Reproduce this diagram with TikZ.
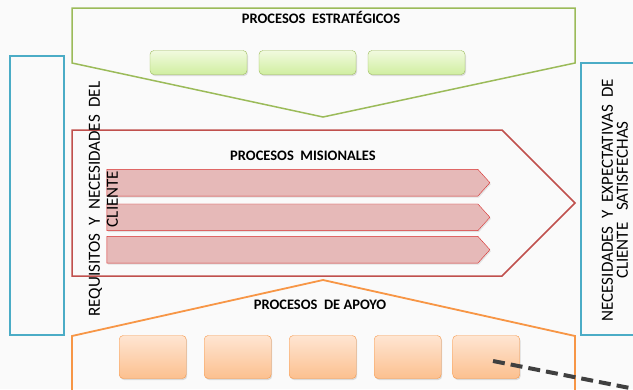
\documentclass[tikz,border=0pt]{standalone}
\usepackage{fontspec}
\setmainfont{Carlito}
\usepackage{xcolor}
\usetikzlibrary{positioning,shapes.symbols,shadows}
\definecolor{verde}{HTML}{9BBB59}
\definecolor{verdea}{HTML}{F1FADF}
\definecolor{verdeb}{HTML}{D0EEA0}
\definecolor{rojo}{HTML}{C0504D}
\definecolor{rojoflecha}{HTML}{D9302E}
\definecolor{rosa}{HTML}{E6B9B8}
\definecolor{naranja}{HTML}{F79646}
\definecolor{naranjaa}{HTML}{FEE5D2}
\definecolor{naranjab}{HTML}{FCC08F}
\definecolor{azul}{HTML}{4BACC6}
\begin{document}
\begin{tikzpicture}
            [x=1pt,y=-1pt,
             caja/.style ={draw,rounded corners=4pt,inner sep=0pt,drop shadow={shadow xshift=1pt,shadow yshift=-1.5pt,opacity=0.25}},
             titulo/.style ={font=\bfseries\fontsize{14.5}{16}\selectfont,anchor=base},
             lado/.style ={rotate=90,align=center,font=\fontsize{17}{18}\selectfont},
             flecha/.style ={draw=rojoflecha,fill=rosa,signal,signal to=east,signal pointer angle=96,minimum width=383pt,minimum height=26.7pt,inner sep=0pt,anchor=west,drop shadow={shadow xshift=1pt,shadow yshift=-1.5pt,opacity=0.2}}]
            \clip (0,0) rectangle (633,389);
            \fill[black!2] (0,0) rectangle (633,389);
            % marcos
            \draw[verde,line width=1.5pt] (72,8) -- (575,8) -- (575,63) -- (323,117) -- (72,63) -- cycle;
            \draw[rojo,line width=1.5pt] (72,130) -- (502,130) -- (575,203) -- (502,276) -- (72,276) -- cycle;
            \draw[naranja,line width=1.8pt] (72,400) -- (72,336) -- (323,280) -- (575,336) -- (575,400);
            \draw[azul,line width=1.8pt] (10,56) rectangle (64,335);
            \draw[azul,line width=1.8pt] (581,63) rectangle (660,335);
            % estrategicos
            \node[titulo] (te) at (321,23) {PROCESOS\ \ ESTRATÉGICOS};
            \begin{scope}[node distance=109pt]
            \node[caja][draw=verde,top color=verdea,bottom color=verdeb,minimum width=97pt,minimum height=24pt] (g1) at (198.5,62.5) {};
            \node[caja][draw=verde,top color=verdea,bottom color=verdeb,minimum width=97pt,minimum height=24pt] (g2) [right of = g1] {};
            \node[caja][draw=verde,top color=verdea,bottom color=verdeb,minimum width=97pt,minimum height=24pt] (g3) [right of = g2] {};
            \end{scope}
            % misionales
            \node[titulo] (tm) at (303,160) {PROCESOS\ \ MISIONALES};
            \node[flecha] (r1) at (106.7,182.7) {};
            \node[flecha] (r2) [below=7.5pt of r1.south west, anchor=north west] {};
            \node[flecha] (r3) [below=5.3pt of r2.south west, anchor=north west] {};
            % apoyo
            \node[titulo] (ta) at (320,309) {PROCESOS\ \ DE APOYO};
            \begin{scope}[node distance=85pt]
            \node[caja][draw=naranja,top color=naranjaa,bottom color=naranjab,minimum width=67pt,minimum height=43pt] (o1) at (152.7,357) {};
            \node[caja][draw=naranja,top color=naranjaa,bottom color=naranjab,minimum width=67pt,minimum height=43pt] (o2) [right of = o1] {};
            \node[caja][draw=naranja,top color=naranjaa,bottom color=naranjab,minimum width=67pt,minimum height=43pt] (o3) [right of = o2] {};
            \node[caja][draw=naranja,top color=naranjaa,bottom color=naranjab,minimum width=67pt,minimum height=43pt] (o4) [right of = o3] {};
            \node[caja][draw=naranja,top color=naranjaa,bottom color=naranjab,minimum width=67pt,minimum height=43pt] (o5) [right of = o4, node distance=78.5pt] {};
            \end{scope}
            % cliente
            \node[lado] (req) at (103.5,199) {REQUISITOS\ \ Y\ \ NECESIDADES\ \ DEL\\CLIENTE};
            \node[lado,font=\fontsize{17}{15}\selectfont] (nec) at (615,200) {NECESIDADES\ \ Y\ \ EXPECTATIVAS\ \ DE\\CLIENTE\ \ \ SATISFECHAS};
            \coordinate (ini) at (493,361);
            \coordinate (fin) at (660,394);
            \draw[black!75,line width=4pt,dash pattern=on 12pt off 6pt] (ini) -- (fin);
\end{tikzpicture}
\end{document}
